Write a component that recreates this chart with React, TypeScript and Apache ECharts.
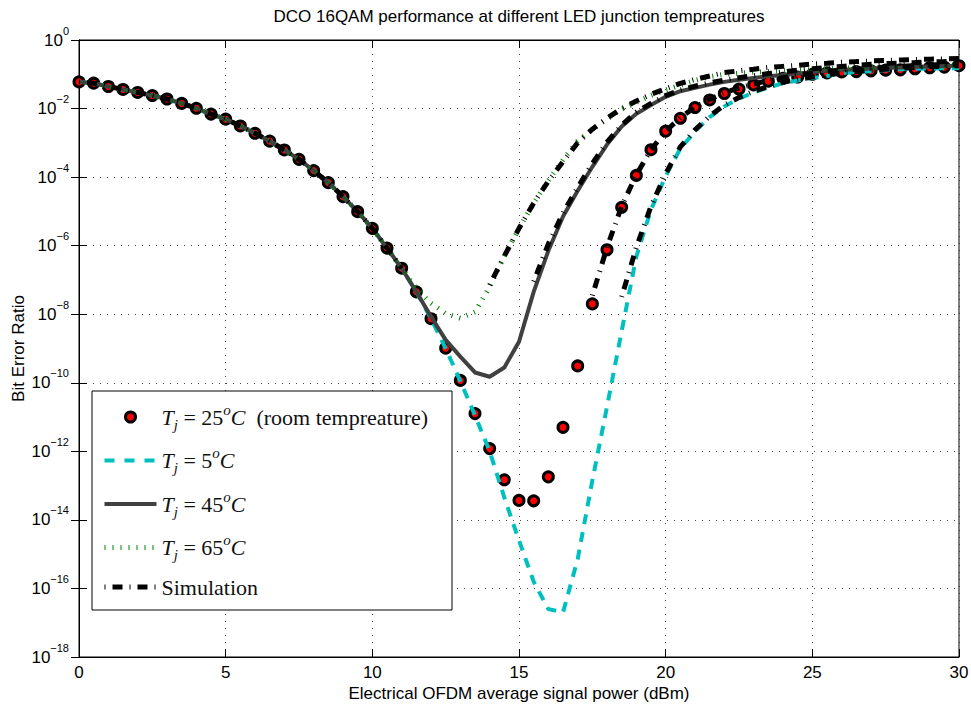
import React, { useEffect, useRef } from 'react';
import * as echarts from 'echarts';

// Electrical OFDM average signal power (dBm), 0.5 dB steps
const powerDbm = [
  0, 0.5, 1, 1.5, 2, 2.5, 3, 3.5, 4, 4.5,
  5, 5.5, 6, 6.5, 7, 7.5, 8, 8.5, 9, 9.5,
  10, 10.5, 11, 11.5, 12, 12.5, 13, 13.5, 14, 14.5,
  15, 15.5, 16, 16.5, 17, 17.5, 18, 18.5, 19, 19.5,
  20, 20.5, 21, 21.5, 22, 22.5, 23, 23.5, 24, 24.5,
  25, 25.5, 26, 26.5, 27, 27.5, 28, 28.5, 29, 29.5, 30,
];

// Tj = 25 oC (room temperature), measured markers
const berT25 = [
  6.0e-2, 5.5e-2, 4.4e-2, 3.6e-2, 2.95e-2, 2.4e-2, 1.9e-2, 1.41e-2, 1.02e-2, 6.9e-3,
  4.9e-3, 3.1e-3, 1.9e-3, 1.12e-3, 6.2e-4, 3.3e-4, 1.55e-4, 6.9e-5, 2.7e-5, 9.8e-6,
  3.2e-6, 8.5e-7, 2.2e-7, 4.5e-8, 7.4e-9, 1.02e-9, 1.17e-10, 1.26e-11, 1.2e-12, 1.48e-13,
  3.7e-14, 3.6e-14, 1.8e-13, 5.0e-12, 3.1e-10, 2.0e-8, 7.6e-7, 1.32e-5, 1.12e-4, 6.3e-4,
  2.2e-3, 5.2e-3, 1.07e-2, 1.78e-2, 2.75e-2, 3.7e-2, 4.9e-2, 6.3e-2, 7.6e-2, 8.3e-2,
  0.1, 0.11, 0.117, 0.12, 0.126, 0.132, 0.135, 0.145, 0.155, 0.162, 0.178,
];

// Tj = 5 oC
const berT5 = [
  6.0e-2, 5.5e-2, 4.4e-2, 3.6e-2, 2.95e-2, 2.4e-2, 1.9e-2, 1.41e-2, 1.02e-2, 6.9e-3,
  4.9e-3, 3.1e-3, 1.9e-3, 1.12e-3, 6.2e-4, 3.3e-4, 1.55e-4, 6.9e-5, 2.7e-5, 9.8e-6,
  3.2e-6, 8.5e-7, 2.2e-7, 4.5e-8, 7.4e-9, 1.0e-9, 1.12e-10, 1.12e-11, 1.0e-12, 4.5e-14,
  2.5e-15, 1.58e-16, 2.5e-17, 2.0e-17, 7.1e-16, 1.41e-13, 2.0e-11, 3.2e-9, 4.8e-7, 1.12e-5,
  1.07e-4, 6.8e-4, 2.14e-3, 5.6e-3, 1.15e-2, 1.95e-2, 2.95e-2, 4.1e-2, 5.5e-2, 6.6e-2,
  7.8e-2, 8.9e-2, 0.108, 0.116, 0.123, 0.132, 0.14, 0.145, 0.148, 0.15, 0.151,
];

// Tj = 45 oC
const berT45 = [
  6.0e-2, 5.5e-2, 4.4e-2, 3.6e-2, 2.95e-2, 2.4e-2, 1.9e-2, 1.41e-2, 1.02e-2, 6.9e-3,
  4.9e-3, 3.1e-3, 1.9e-3, 1.12e-3, 6.2e-4, 3.3e-4, 1.55e-4, 6.9e-5, 2.7e-5, 9.8e-6,
  3.2e-6, 8.5e-7, 2.2e-7, 4.5e-8, 8.5e-9, 1.78e-9, 5.8e-10, 2.0e-10, 1.5e-10, 2.8e-10,
  1.58e-9, 4.5e-8, 7.1e-7, 7.1e-6, 4.0e-5, 2.0e-4, 8.9e-4, 3.0e-3, 7.1e-3, 1.26e-2,
  2.2e-2, 3.2e-2, 4.0e-2, 5.0e-2, 6.0e-2, 6.9e-2, 7.8e-2, 8.7e-2, 9.5e-2, 0.105,
  0.115, 0.126, 0.135, 0.141, 0.148, 0.155, 0.158, 0.166, 0.17, 0.174, 0.178,
];

// Tj = 65 oC
const berT65 = [
  6.0e-2, 5.5e-2, 4.4e-2, 3.6e-2, 2.95e-2, 2.4e-2, 1.9e-2, 1.41e-2, 1.02e-2, 6.9e-3,
  4.9e-3, 3.1e-3, 1.9e-3, 1.12e-3, 6.2e-4, 3.3e-4, 1.55e-4, 6.9e-5, 2.7e-5, 9.8e-6,
  3.2e-6, 8.5e-7, 2.2e-7, 5.6e-8, 2.1e-8, 1.05e-8, 7.6e-9, 1.17e-8, 6.3e-8, 5.0e-7,
  3.2e-6, 1.74e-5, 7.9e-5, 3.2e-4, 1.12e-3, 2.5e-3, 5.0e-3, 9.5e-3, 1.51e-2, 2.4e-2,
  3.5e-2, 4.8e-2, 6.6e-2, 8.5e-2, 0.1, 0.107, 0.115, 0.12, 0.126, 0.132,
  0.138, 0.145, 0.151, 0.155, 0.158, 0.162, 0.166, 0.17, 0.174, 0.178, 0.182,
];

// Simulation (Monte Carlo, only BER above ~1e-7 resolvable)
const simSharedStart = 0; // dBm
const simSharedBer = [
  6.0e-2, 5.5e-2, 4.4e-2, 3.6e-2, 2.95e-2, 2.4e-2, 1.9e-2, 1.41e-2, 1.02e-2, 6.9e-3,
  4.9e-3, 3.1e-3, 1.9e-3, 1.12e-3, 6.2e-4, 3.3e-4, 1.55e-4, 6.9e-5, 2.7e-5, 9.8e-6,
  3.2e-6, 8.5e-7, 2.2e-7,
];
const sim65Start = 14;
const sim65Ber = [
  7.1e-8, 5.0e-7, 3.2e-6, 1.74e-5, 7.6e-5, 2.8e-4, 1.0e-3, 2.5e-3, 5.2e-3, 1.0e-2,
  1.66e-2, 2.6e-2, 3.8e-2, 5.4e-2, 7.1e-2, 8.9e-2, 0.112, 0.126, 0.141, 0.158,
  0.17, 0.182, 0.2, 0.209, 0.224, 0.234, 0.245, 0.251, 0.263, 0.269, 0.275, 0.282, 0.288,
];
const sim45Start = 15.5;
const sim45Ber = [
  8.9e-8, 1.12e-6, 8.9e-6, 5.0e-5, 2.5e-4, 1.05e-3, 3.3e-3, 7.9e-3, 1.41e-2, 2.4e-2,
  3.5e-2, 4.5e-2, 5.6e-2, 6.8e-2, 7.9e-2, 9.1e-2, 0.105, 0.117, 0.132, 0.145,
  0.158, 0.17, 0.182, 0.195, 0.204, 0.214, 0.219, 0.229, 0.234, 0.24,
];
const sim25Start = 17.5;
const sim25Ber = [
  3.5e-8, 8.9e-7, 1.41e-5, 1.17e-4, 6.3e-4, 2.2e-3, 5.4e-3, 1.1e-2, 1.86e-2, 2.9e-2,
  4.0e-2, 5.2e-2, 6.6e-2, 7.9e-2, 9.3e-2, 0.107, 0.12, 0.132, 0.141, 0.151,
  0.162, 0.17, 0.178, 0.186, 0.191, 0.195,
];
const sim5Start = 18.5;
const sim5Ber = [
  3.2e-8, 8.9e-7, 1.41e-5, 1.26e-4, 7.6e-4, 2.4e-3, 6.0e-3, 1.26e-2, 2.1e-2, 3.2e-2,
  4.4e-2, 5.8e-2, 7.1e-2, 8.3e-2, 9.5e-2, 0.11, 0.12, 0.132, 0.141, 0.151,
  0.158, 0.166, 0.174, 0.178,
];

const yTickExponents = [0, -2, -4, -6, -8, -10, -12, -14, -16, -18];
const xTicks = [0, 5, 10, 15, 20, 25, 30];

const NAME25 = 'Tj = 25oC (room tempreature)';
const NAME5 = 'Tj = 5oC';
const NAME45 = 'Tj = 45oC';
const NAME65 = 'Tj = 65oC';
const NAMESIM = 'Simulation';

const legendRich: Record<string, string> = {
  [NAME25]: '{i|T}{sub|j}{r| = 25}{sup|o}{i|C}{r|  (room tempreature)}',
  [NAME5]: '{i|T}{sub|j}{r| = 5}{sup|o}{i|C}',
  [NAME45]: '{i|T}{sub|j}{r| = 45}{sup|o}{i|C}',
  [NAME65]: '{i|T}{sub|j}{r| = 65}{sup|o}{i|C}',
  [NAMESIM]: '{r|Simulation}',
};

function pairs(ys: number[], start: number) {
  const i0 = powerDbm.indexOf(start);
  return ys.map((y, k) => [powerDbm[i0 + k], y]);
}

export default function App() {
  const ref = useRef<HTMLDivElement>(null);
  useEffect(() => {
    if (!ref.current) return;
    const chart = echarts.init(ref.current, null, { renderer: 'svg' });
    const sans = 'Liberation Sans, Arial, sans-serif';
    const serif = 'Liberation Serif, Times New Roman, serif';
    const gridLine = { show: true, lineStyle: { color: '#444', width: 1, type: [1, 6] as any } };
    const simStyle = { color: '#000', width: 5, type: [1, 7, 10, 7] as any };
    const hiddenSym = { opacity: 0, color: 'transparent', borderWidth: 0 };

    const simSeries = (data: number[][]) => ({
      name: NAMESIM,
      type: 'line',
      data,
      symbol: 'none',
      showSymbol: false,
      lineStyle: simStyle,
      itemStyle: { color: '#000' },
      z: 6,
    });

    const option: any = {
      animation: false,
      backgroundColor: '#fff',
      title: {
        text: 'DCO 16QAM performance at different LED junction tempreatures',
        left: 519,
        top: 8,
        padding: 0,
        textAlign: 'center',
        textStyle: { fontFamily: sans, fontSize: 17, fontWeight: 'normal', color: '#000' },
      },
      grid: {
        left: 79, right: 12, top: 40, bottom: 47,
        containLabel: false,
        outerBoundsMode: 'none',
        show: true, borderColor: '#000', borderWidth: 1,
      },
      xAxis: [
        {
          type: 'value', min: 0, max: 30, interval: 5,
          name: 'Electrical OFDM average signal power (dBm)',
          nameLocation: 'middle', nameGap: 28, nameMoveOverlap: false,
          nameTextStyle: { fontFamily: sans, fontSize: 17, color: '#000' },
          axisLine: { show: true, lineStyle: { color: '#000' } },
          axisTick: { show: true, inside: true, length: 8, lineStyle: { color: '#000' } },
          axisLabel: {
            fontFamily: sans, fontSize: 17, color: '#000', margin: 7,
            formatter: (v: number) => (xTicks.includes(v) ? String(v) : ''),
          },
          splitLine: gridLine,
        },
        {
          type: 'value', min: 0, max: 30, interval: 5, position: 'top',
          axisLine: { show: true, lineStyle: { color: '#000' } },
          axisTick: { show: true, inside: true, length: 8, lineStyle: { color: '#000' } },
          axisLabel: { show: false },
          splitLine: { show: false },
        },
      ],
      yAxis: [
        {
          type: 'log', logBase: 10, min: 1e-18, max: 1, interval: 2, splitNumber: 9,
          name: 'Bit Error Ratio', nameLocation: 'middle', nameGap: 52, nameMoveOverlap: false,
          nameTextStyle: { fontFamily: sans, fontSize: 17, color: '#000' },
          axisLine: { show: true, lineStyle: { color: '#000' } },
          axisTick: { show: true, inside: true, length: 8, lineStyle: { color: '#000' } },
          splitLine: gridLine,
          axisLabel: {
            margin: 10,
            formatter: (v: number) => {
              const e = Math.round(Math.log10(v));
              if (!yTickExponents.includes(e)) return '';
              const s = e < 0 ? '\u2212' + String(-e) : String(e);
              return '{b|10}{s|' + s + '}';
            },
            rich: {
              b: { fontFamily: sans, fontSize: 17, color: '#000', lineHeight: 30 },
              s: { fontFamily: sans, fontSize: 11, color: '#000', lineHeight: 11, verticalAlign: 'top' },
            },
          },
        },
        {
          type: 'log', logBase: 10, min: 1e-18, max: 1, interval: 2, splitNumber: 9, position: 'right',
          axisLine: { show: true, lineStyle: { color: '#000' } },
          axisTick: { show: true, inside: true, length: 8, lineStyle: { color: '#000' } },
          axisLabel: { show: false },
          splitLine: { show: false },
        },
      ],
      graphic: [
        {
          type: 'rect',
          z: 50,
          shape: { x: 92, y: 391, width: 360, height: 219 },
          style: { fill: '#fff', stroke: '#000', lineWidth: 1 },
        },
      ],
      legend: {
        orient: 'vertical',
        left: 102,
        top: 402,
        padding: 0,
        itemGap: 13.5,
        itemWidth: 52,
        itemHeight: 10,
        selectedMode: false,
        z: 60,
        data: [
          { name: NAME25, itemStyle: { color: '#ff0000', borderColor: '#000', borderWidth: 3 } },
          { name: NAME5, itemStyle: hiddenSym, lineStyle: { width: 4, color: '#00bfbf', type: [10, 10] } },
          { name: NAME45, itemStyle: hiddenSym, lineStyle: { width: 4, color: '#404040', type: 'solid' } },
          { name: NAME65, itemStyle: hiddenSym, lineStyle: { width: 5, color: '#008000', type: [1, 7] } },
          { name: NAMESIM, itemStyle: hiddenSym, lineStyle: { width: 5, color: '#000', type: [1, 7, 10, 7] } },
        ],
        formatter: (name: string) => legendRich[name] || name,
        textStyle: {
          fontFamily: serif, fontSize: 22, color: '#111',
          rich: {
            r: { fontFamily: serif, fontSize: 22, color: '#111', lineHeight: 30 },
            i: { fontFamily: serif, fontSize: 22, fontStyle: 'italic', color: '#111', lineHeight: 30 },
            sub: { fontFamily: serif, fontSize: 15, fontStyle: 'italic', color: '#111', lineHeight: 15, verticalAlign: 'bottom' },
            sup: { fontFamily: serif, fontSize: 15, fontStyle: 'italic', color: '#111', lineHeight: 15, verticalAlign: 'top' },
          },
        },
      },
      series: [
        {
          name: NAME25,
          type: 'scatter',
          data: pairs(berT25, 0),
          symbol: 'circle',
          symbolSize: 10,
          itemStyle: { color: '#ff0000', borderColor: '#000', borderWidth: 3, opacity: 1 },
          z: 2,
        },
        {
          name: NAME5,
          type: 'line',
          data: pairs(berT5, 0),
          symbol: 'none',
          showSymbol: false,
          lineStyle: { color: '#00bfbf', width: 4, type: [10, 8] },
          itemStyle: { color: '#00bfbf' },
          z: 3,
        },
        {
          name: NAME45,
          type: 'line',
          data: pairs(berT45, 0),
          symbol: 'none',
          showSymbol: false,
          lineStyle: { color: '#404040', width: 4 },
          itemStyle: { color: '#404040' },
          z: 4,
        },
        {
          name: NAME65,
          type: 'line',
          data: pairs(berT65, 0),
          symbol: 'none',
          showSymbol: false,
          lineStyle: { color: '#008000', width: 5, type: [1, 7] },
          itemStyle: { color: '#008000' },
          z: 5,
        },
        simSeries(pairs(simSharedBer, simSharedStart)),
        simSeries(pairs(sim65Ber, sim65Start)),
        simSeries(pairs(sim45Ber, sim45Start)),
        simSeries(pairs(sim25Ber, sim25Start)),
        simSeries(pairs(sim5Ber, sim5Start)),
      ],
    };
    chart.setOption(option);
    return () => chart.dispose();
  }, []);
  return (
    <div
      ref={ref}
      style={{ position: 'absolute', left: 0, top: 0, width: 971, height: 704 }}
    />
  );
}
